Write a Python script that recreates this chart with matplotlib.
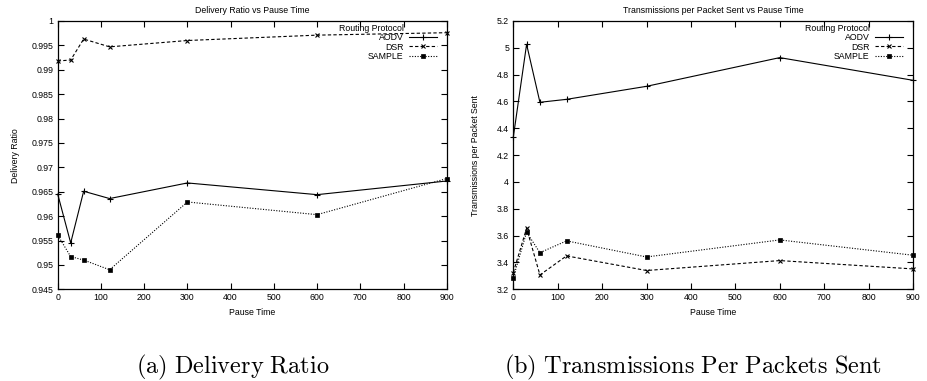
import matplotlib
matplotlib.use("Agg")
import matplotlib.pyplot as plt
from matplotlib.lines import Line2D

plt.rcParams['font.family'] = ['Liberation Sans', 'DejaVu Sans']
plt.rcParams['mathtext.fontset'] = 'cm'

pause_time = [0, 30, 60, 120, 300, 600, 900]

# Delivery ratio
dr_aodv = [0.9645, 0.9545, 0.9651, 0.9636, 0.9668, 0.9644, 0.9672]
dr_dsr = [0.9918, 0.9920, 0.9963, 0.9947, 0.9960, 0.9971, 0.9976]
dr_sample = [0.9561, 0.9517, 0.9510, 0.9490, 0.9629, 0.9603, 0.9677]

# Transmissions per packet sent
tx_aodv = [4.333, 5.026, 4.594, 4.616, 4.713, 4.927, 4.758]
tx_dsr = [3.325, 3.655, 3.307, 3.449, 3.340, 3.414, 3.352]
tx_sample = [3.287, 3.625, 3.473, 3.561, 3.441, 3.568, 3.454]

protocols = ["AODV", "DSR", "SAMPLE"]
legend_title = "Routing Protocol"

dr_yticks = [0.945, 0.95, 0.955, 0.96, 0.965, 0.97, 0.975, 0.98, 0.985, 0.99, 0.995, 1]
dr_yticklabels = ["0.945", "0.95", "0.955", "0.96", "0.965", "0.97", "0.975", "0.98", "0.985", "0.99", "0.995", "1"]
tx_yticks = [3.2, 3.4, 3.6, 3.8, 4.0, 4.2, 4.4, 4.6, 4.8, 5.0, 5.2]
tx_yticklabels = ["3.2", "3.4", "3.6", "3.8", "4", "4.2", "4.4", "4.6", "4.8", "5", "5.2"]
xticks = [0, 100, 200, 300, 400, 500, 600, 700, 800, 900]

FS = 6.3
LW = 0.8
styles = [
    dict(linestyle='-', marker='+', markersize=5, mew=0.8),
    dict(linestyle=(0, (3, 2)), marker='x', markersize=3.5, mew=0.8),
    dict(linestyle=(0, (1, 1.4)), marker='s', markersize=2.6, mew=0.5),
]

fig = plt.figure(figsize=(9.28, 3.81), dpi=100)
ax1 = fig.add_axes([0.0622, 0.2407, 0.4192, 0.7042])
ax2 = fig.add_axes([0.5531, 0.2407, 0.4307, 0.7042])


def setup(ax, series, yticks, yticklabels, ylim, title, ylabel, ylabelpad):
    handles = [Line2D([], [], linestyle='none', marker='none')]
    labels = [legend_title]
    for vals, name, st in zip(series, protocols, styles):
        ln, = ax.plot(pause_time, vals, color='black', lw=LW, label=name,
                      markerfacecolor='black', markeredgecolor='black', clip_on=False, **st)
        handles.append(ln)
        labels.append(name)
    ax.set_xlim(0, 900)
    ax.set_ylim(*ylim)
    ax.set_xticks(xticks)
    ax.set_xticklabels([str(v) for v in xticks], fontsize=FS)
    ax.set_yticks(yticks)
    ax.set_yticklabels(yticklabels, fontsize=FS)
    ax.tick_params(direction='in', length=4, width=0.8, top=True, right=True, pad=3)
    for sp in ax.spines.values():
        sp.set_linewidth(0.9)
    ax.set_title(title, fontsize=FS, pad=6)
    ax.set_xlabel("Pause Time", fontsize=FS, labelpad=4)
    ax.set_ylabel(ylabel, fontsize=FS, labelpad=ylabelpad)
    leg = ax.legend(handles, labels, loc='upper right', bbox_to_anchor=(0.975, 0.99),
                    frameon=False, markerfirst=False, fontsize=FS, alignment='right',
                    handlelength=3.2, labelspacing=0.05, borderpad=0,
                    handletextpad=0.6, borderaxespad=0)
    return leg


setup(ax1, [dr_aodv, dr_dsr, dr_sample], dr_yticks, dr_yticklabels, (0.945, 1.0),
      "Delivery Ratio vs Pause Time", "Delivery Ratio", 8)
setup(ax2, [tx_aodv, tx_dsr, tx_sample], tx_yticks, tx_yticklabels, (3.2, 5.2),
      "Transmissions per Packet Sent vs Pause Time", "Transmissions per Packet Sent", 12)

fig.text(0.2505, 1 - 367 / 381, r"$\mathrm{(a)\ Delivery\ Ratio}$", fontsize=17.5,
         ha='center', va='center')
fig.text(0.747, 1 - 367 / 381, r"$\mathrm{(b)\ Transmissions\ Per\ Packets\ Sent}$",
         fontsize=17.5, ha='center', va='center')

fig.savefig("out.png", dpi=100)
